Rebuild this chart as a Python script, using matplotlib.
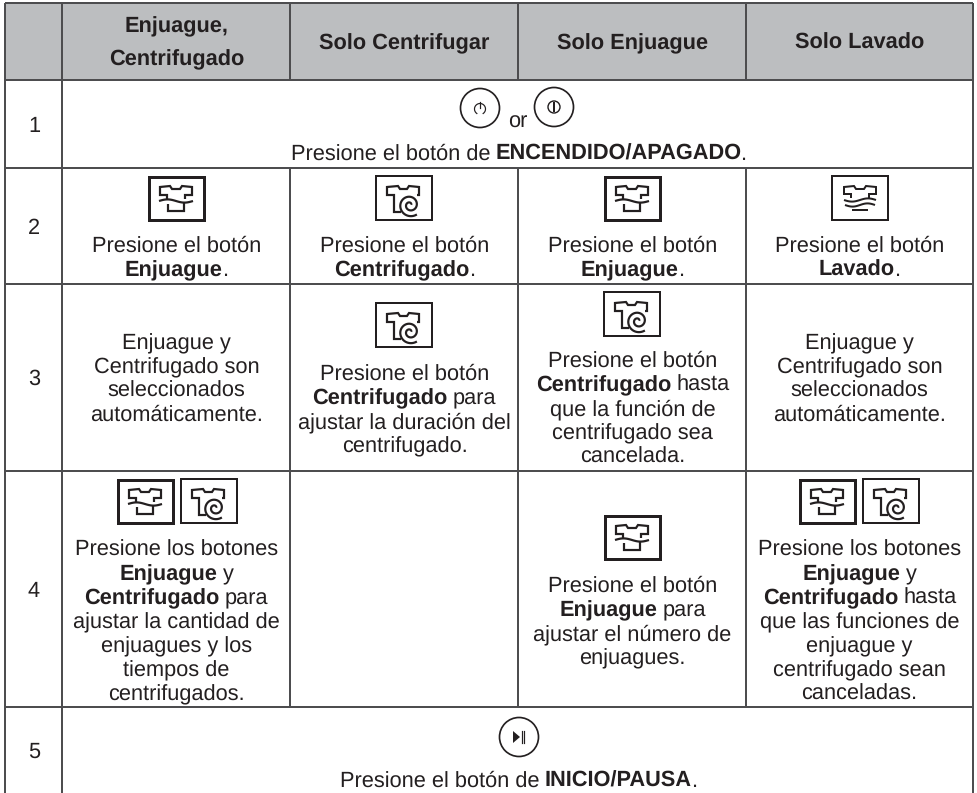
import numpy as np
import matplotlib
matplotlib.use('Agg')
import matplotlib.pyplot as plt
from matplotlib.patches import Rectangle, Circle, Polygon

plt.rcParams['text.hinting'] = 'none'
plt.rcParams['text.hinting_factor'] = 8

# table text, ** marks the bold parts
headers = [["Enjuague,", "Centrifugado"], ["Solo Centrifugar"], ["Solo Enjuague"], ["Solo Lavado"]]
row_numbers = ["1", "2", "3", "4", "5"]
row1_text = "Presione el botón de **ENCENDIDO/APAGADO**."
row2_text = [["Presione el botón", "**Enjuague**."],
             ["Presione el botón", "**Centrifugado**."],
             ["Presione el botón", "**Enjuague**."],
             ["Presione el botón", "**Lavado**."]]
row3_text = [["Enjuague y", "Centrifugado son", "seleccionados", "automáticamente."],
             ["Presione el botón", "**Centrifugado** para", "ajustar la duración del", "centrifugado."],
             ["Presione el botón", "**Centrifugado** hasta", "que la función de", "centrifugado sea", "cancelada."],
             ["Enjuague y", "Centrifugado son", "seleccionados", "automáticamente."]]
row4_text = [["Presione los botones", "**Enjuague** y", "**Centrifugado** para", "ajustar la cantidad de",
              "enjuagues y los", "tiempos de", "centrifugados."],
             [],
             ["Presione el botón", "**Enjuague** para", "ajustar el número de", "enjuagues."],
             ["Presione los botones", "**Enjuague** y", "**Centrifugado** hasta", "que las funciones de",
              "enjuague y", "centrifugado sean", "canceladas."]]
row5_text = "Presione el botón de **INICIO/PAUSA**."

# layout in pixels
col_x = [5, 62, 290, 518, 745.5, 973]
row_y = [3, 79.5, 167.5, 283.5, 470.5, 706.5, 793]
col_c = [176, 404, 632, 859]
TEXT = '#231f20'
LINE = '#4d4d4f'
FS = 15.7
PX = 0.72

fig = plt.figure(figsize=(9.78, 7.93), dpi=100)
ax = fig.add_axes([0, 0, 1, 1])
ax.set_xlim(0, 978)
ax.set_ylim(793, 0)
ax.axis('off')
renderer = fig.canvas.get_renderer()


def draw_line(cx, y, line, all_bold=False):
    # one text per bold / normal run, centred by hand
    space = 0.278 * FS / PX
    artists = []
    offsets = []
    total = 0
    for i, chunk in enumerate(line.split('**')):
        if not chunk:
            continue
        if chunk.startswith(' '):
            total += space
        bold = all_bold or i % 2 == 1
        t = ax.text(0, y, chunk.strip(), family='Liberation Sans', fontsize=FS, color=TEXT,
                    fontweight='bold' if bold else 'normal', va='baseline', ha='left')
        artists.append(t)
        offsets.append(total)
        total += t.get_window_extent(renderer).width - 1
        if chunk.endswith(' '):
            total += space
    for t, off in zip(artists, offsets):
        t.set_x(cx - total / 2 + off)


def draw_block(cx, first_y, lines, step=24):
    for i, line in enumerate(lines):
        draw_line(cx, first_y + i * step, line)


def box(x, y, lw_px):
    ax.add_patch(Rectangle((x + lw_px / 2 - 1, y + lw_px / 2 - 1), 56 - lw_px + 2, 44 - lw_px + 2, fill=False,
                           ec='#231f20', lw=lw_px * PX, joinstyle='miter'))


def stroke(x, y, xs, ys, lw_px=2.2):
    ax.plot(np.array(xs) + x, np.array(ys) + y, color='#231f20', lw=lw_px * PX,
            solid_capstyle='butt', solid_joinstyle='miter')


def wave(x, y, x0, x1, y0, amp, lw_px=2.2):
    t = np.linspace(0, 1, 40)
    stroke(x, y, x0 + (x1 - x0) * t, y0 + amp * np.sin(2 * np.pi * t), lw_px)


def rinse_icon(x, y):
    box(x, y, 3)
    stroke(x, y, [19, 19, 12, 12, 22, 24, 32, 34, 44, 44, 37, 37],
           [23, 19, 19, 11, 10, 13, 13, 10, 11, 19, 19, 23])
    wave(x, y, 11, 45, 25, -1.6)
    stroke(x, y, [20, 20, 36, 36], [28, 35, 35, 27])


def spin_icon(x, y):
    box(x, y, 2)
    stroke(x, y, [25, 18, 18, 11, 11, 22, 24, 31, 33, 43, 43, 41],
           [36, 36, 19, 19, 11, 10, 13, 13, 10, 11, 19, 19])
    th = np.linspace(0.2, 3.7 * np.pi, 120)
    r = 1.0 + th * 0.92
    stroke(x, y, 34 + r * np.cos(th), 29 - r * np.sin(th))


def wash_icon(x, y):
    box(x, y, 2)
    stroke(x, y, [19, 19, 12, 12, 22, 24, 32, 34, 44, 44, 37, 37],
           [22, 18, 18, 11, 10, 13, 13, 10, 11, 18, 18, 22], 2)
    wave(x, y, 12, 44, 24, 1.6, 2)
    wave(x, y, 13, 43, 29, 1.6, 2)
    stroke(x, y, [20, 36], [34, 34], 2)


def round_button(cx, cy):
    ax.add_patch(Circle((cx, cy), 19.5, fill=False, ec='#231f20', lw=1.7 * PX))


def power_button(cx, cy):
    round_button(cx, cy)
    th = np.linspace(np.radians(-55), np.radians(235), 50)
    ax.plot(cx + 5.5 * np.cos(th), cy + 1 - 5.5 * np.sin(th), color='#231f20', lw=1.2 * PX)
    ax.plot([cx, cx], [cy - 6, cy], color='#231f20', lw=1.2 * PX)


def on_button(cx, cy):
    round_button(cx, cy)
    ax.add_patch(Circle((cx, cy), 6, fill=False, ec='#231f20', lw=1.4 * PX))
    ax.plot([cx, cx], [cy - 4, cy + 4], color='#231f20', lw=2 * PX)


def play_button(cx, cy):
    round_button(cx, cy)
    ax.add_patch(Polygon([[cx - 6, cy - 6], [cx - 6, cy + 6], [cx + 1, cy]], fc='#231f20', ec='none'))
    for dx in (2.5, 5):
        ax.plot([cx + dx, cx + dx], [cy - 6, cy + 6], color='#231f20', lw=1.2 * PX)


# header band and grid
ax.add_patch(Rectangle((col_x[0], row_y[0]), col_x[-1] - col_x[0], row_y[1] - row_y[0], fc='#bcbec0', ec='none'))
for y in row_y[:-1]:
    ax.plot([col_x[0], col_x[-1]], [y, y], color=LINE, lw=2 * PX, solid_capstyle='butt')
for x in [col_x[0], col_x[1], col_x[-1]]:
    ax.plot([x, x], [row_y[0], row_y[-1]], color=LINE, lw=2 * PX, solid_capstyle='butt')
for x in col_x[2:-1]:
    for i in (0, 2, 3, 4):
        ax.plot([x, x], [row_y[i], row_y[i + 1]], color=LINE, lw=2 * PX, solid_capstyle='butt')

# header text
draw_line(col_c[0], 32, headers[0][0], True)
draw_line(col_c[0], 65, headers[0][1], True)
for c, h in zip(col_c[1:], headers[1:]):
    draw_line(c, 49, h[0], True)

# row numbers
for y, n in zip([132, 234, 385, 597, 758], row_numbers):
    ax.text(34, y, n, family='Liberation Sans', fontsize=FS, color=TEXT, ha='center', va='baseline')

# row 1
power_button(480, 108)
on_button(554, 107)
draw_line(517, 128, "or")
draw_line(518, 160, row1_text)

# row 2
rinse_icon(148, 176)
spin_icon(376, 176)
rinse_icon(604, 176)
wash_icon(832, 176)
for c, lines in zip(col_c, row2_text):
    draw_block(c, 252, lines)

# row 3
spin_icon(376, 303)
spin_icon(604, 292)
draw_block(col_c[0], 349, row3_text[0])
draw_block(col_c[1], 380, row3_text[1])
draw_block(col_c[2], 367, row3_text[2])
draw_block(col_c[3], 349, row3_text[3])

# row 4
rinse_icon(117, 479)
spin_icon(181, 479)
rinse_icon(604, 515)
rinse_icon(799, 479)
spin_icon(863, 479)
draw_block(col_c[0], 556, row4_text[0])
draw_block(col_c[2], 592, row4_text[2])
draw_block(col_c[3], 556, row4_text[3])

# row 5
play_button(519, 737)
draw_line(518, 787, row5_text)

fig.savefig('out.png', dpi=100)
